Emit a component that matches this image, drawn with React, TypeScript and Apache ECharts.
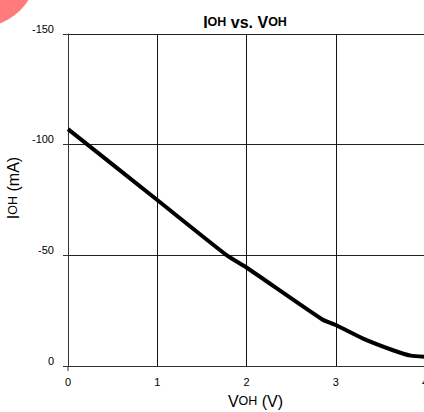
import React, { useEffect, useRef } from "react";
import * as echarts from "echarts";

const voh: number[] = [0, 1, 1.78, 2, 2.85, 3, 3.3, 3.65, 3.84, 4];
const ioh: number[] = [-107, -75, -50, -44.5, -21, -18.5, -12.5, -7, -4.7, -4.2];
const xTicks: number[] = [0, 1, 2, 3, 4];
const yTicks: number[] = [-150, -100, -50, 0];

export default function App() {
  const ref = useRef<HTMLDivElement>(null);
  useEffect(() => {
    if (!ref.current) return;
    const chart = echarts.init(ref.current, undefined, { renderer: "svg" });
    const font = "'Liberation Sans', Arial, sans-serif";
    chart.setOption({
      animation: false,
      backgroundColor: "#ffffff",
      textStyle: { fontFamily: font },
      title: {
        text: "I{s|OH} vs. V{s|OH}",
        left: 240,
        top: 9,
        textAlign: "center",
        textStyle: {
          fontFamily: font,
          fontSize: 16,
          fontWeight: "bold",
          color: "#000",
          rich: { s: { fontFamily: font, fontSize: 12.5, fontWeight: "bold", color: "#000" } },
        },
      },
      graphic: [
        { type: "circle", shape: { cx: -20, cy: -30, r: 57 }, style: { fill: "#ff7a7a" }, silent: true },
        { type: "line", shape: { x1: 68, y1: 366, x2: 68, y2: 371 }, style: { stroke: "#333", lineWidth: 1 } },
      ],
      grid: { left: 68, top: 34, width: 357, height: 332, containLabel: false, outerBoundsMode: "none" },
      xAxis: {
        type: "value",
        min: xTicks[0],
        max: xTicks[xTicks.length - 1],
        interval: 1,
        name: "V{s|OH} (V)",
        nameLocation: "middle",
        nameGap: 27,
        nameTextStyle: {
          fontFamily: font,
          fontSize: 16,
          color: "#000",
          padding: [0, 0, 0, 18],
          rich: { s: { fontFamily: font, fontSize: 12.5, color: "#000" } },
        },
        axisLine: { show: true, onZero: false, lineStyle: { color: "#333", width: 1 } },
        axisTick: { show: false },
        axisLabel: { fontFamily: font, fontSize: 11, color: "#000", margin: 10 },
        splitLine: { show: true, lineStyle: { color: "#111", width: 1 } },
      },
      yAxis: {
        type: "value",
        inverse: true,
        min: yTicks[0],
        max: yTicks[yTicks.length - 1],
        interval: 50,
        name: "I{s|OH} (mA)",
        nameLocation: "middle",
        nameRotate: 90,
        nameGap: 42,
        nameTextStyle: {
          fontFamily: font,
          fontSize: 16,
          color: "#000",
          padding: [0, 0, 0, 24],
          rich: { s: { fontFamily: font, fontSize: 12.5, color: "#000" } },
        },
        axisLine: { show: true, onZero: false, lineStyle: { color: "#333", width: 1 } },
        axisTick: { show: true, length: 5, lineStyle: { color: "#333" } },
        axisLabel: {
          fontFamily: font,
          fontSize: 11,
          color: "#000",
          margin: 14,
          verticalAlign: "bottom",
        },
        splitLine: { show: true, lineStyle: { color: "#222", width: 1 } },
      },
      series: [
        {
          type: "line",
          data: voh.map((v, i) => [v, ioh[i]]),
          showSymbol: false,
          smooth: 0.2,
          lineStyle: { color: "#000", width: 4 },
        },
      ],
    });
    return () => chart.dispose();
  }, []);
  return (
    <div
      ref={ref}
      style={{ position: "fixed", left: 0, top: 0, width: 424, height: 412 }}
    />
  );
}
